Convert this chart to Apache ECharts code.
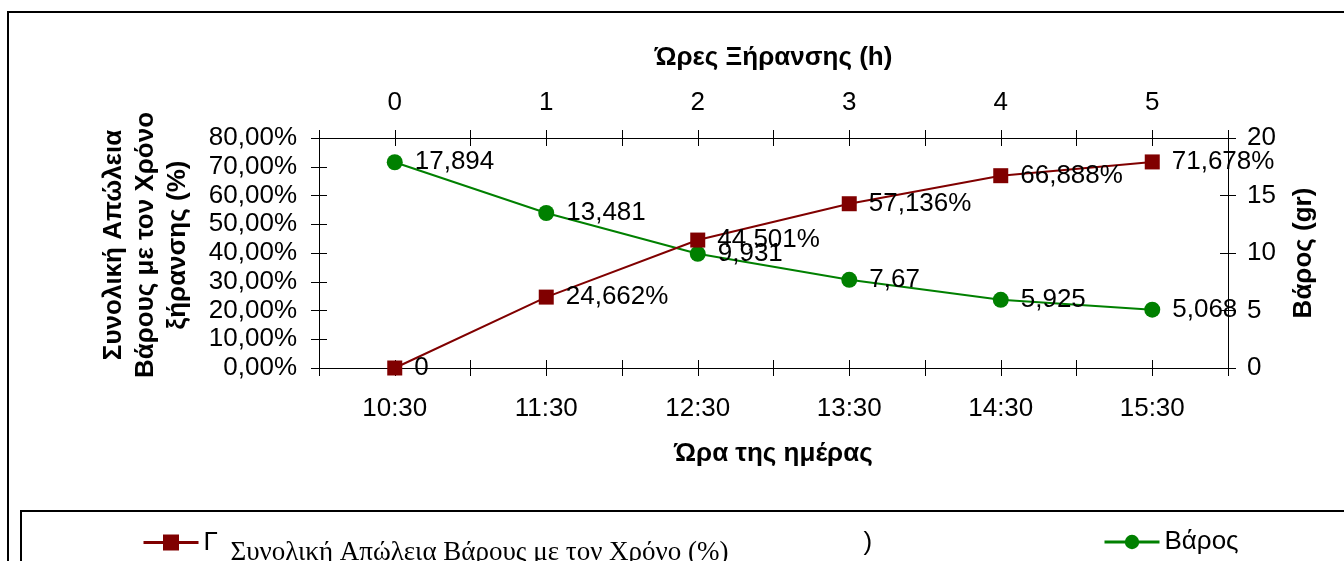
<!DOCTYPE html>
<html>
<head>
<meta charset="utf-8">
<script src="https://cdn.jsdelivr.net/npm/echarts@6/dist/echarts.min.js"></script>
<style>
  html, body { margin: 0; padding: 0; background: #fff; }
  #chart { width: 1344px; height: 561px; }
</style>
</head>
<body>
<div id="chart"></div>
<script>
// Time of day (bottom axis) and drying hours (top axis)
var timesOfDay = ['10:30', '11:30', '12:30', '13:30', '14:30', '15:30'];
var dryingHours = ['0', '1', '2', '3', '4', '5'];

// Cumulative weight loss (%) and sample weight (gr)
var weightLossPct = [0, 24.662, 44.501, 57.136, 66.888, 71.678];
var weightGr = [17.894, 13.481, 9.931, 7.67, 5.925, 5.068];

var lossName = 'Συνολική Απώλεια Βάρους με τον Χρόνο (%)';
var weightName = 'Βάρος';

var FONT = "'Liberation Sans', Arial, sans-serif";
var SERIF = "'Liberation Serif', 'Times New Roman', serif";
var RED = '#800000';
var GREEN = '#008000';
var FS = 26;

function comma(v) { return String(v).replace('.', ','); }

// categories sit at the half-steps of a 0..N value axis so that ticks fall on
// both the category boundaries and the category centres
function catLabel(list) {
  return function (v) {
    var f = v - Math.floor(v);
    if (Math.abs(f - 0.5) < 1e-6) return list[Math.floor(v)] || '';
    return '';
  };
}

var N = timesOfDay.length;
var tickLen = 8;
var lineStyle = { color: '#000', width: 1 };

function xAxisDef(pos, labels, withLabels, inside, name, nameGap) {
  return {
    type: 'value', position: pos, min: 0, max: N, interval: 0.5,
    splitLine: { show: false },
    axisLine: { show: withLabels, onZero: false, lineStyle: lineStyle },
    axisTick: { show: true, inside: inside, length: tickLen, lineStyle: lineStyle },
    axisLabel: withLabels ? {
      show: true, formatter: catLabel(labels), color: '#000',
      fontFamily: FONT, fontSize: FS, margin: pos === 'top' ? 22 : 28,
      showMinLabel: true, showMaxLabel: true
    } : { show: false },
    name: withLabels ? name : '',
    nameLocation: 'middle', nameGap: nameGap,
    nameTextStyle: { color: '#000', fontFamily: FONT, fontSize: FS, fontWeight: 'bold' }
  };
}

function yAxisDef(pos, max, interval, fmt, withLabels, inside) {
  return {
    type: 'value', position: pos, min: 0, max: max, interval: interval,
    splitLine: { show: false },
    axisLine: { show: withLabels, onZero: false, lineStyle: lineStyle },
    axisTick: { show: true, inside: inside, length: tickLen, lineStyle: lineStyle },
    axisLabel: withLabels ? {
      show: true, formatter: fmt, color: '#000', fontFamily: FONT, fontSize: FS,
      margin: pos === 'left' ? 22 : 19
    } : { show: false }
  };
}

var chart = echarts.init(document.getElementById('chart'), null, { renderer: 'canvas' });

chart.setOption({
  animation: false,
  backgroundColor: '#fff',
  textStyle: { fontFamily: FONT },
  grid: { left: 319, right: 116, top: 138, bottom: 193, containLabel: false },
  xAxis: [
    xAxisDef('bottom', timesOfDay, true, false, 'Ώρα της ημέρας', 73),
    xAxisDef('top', dryingHours, true, false, 'Ώρες Ξήρανσης (h)', 67),
    xAxisDef('bottom', timesOfDay, false, true),
    xAxisDef('top', dryingHours, false, true)
  ],
  yAxis: [
    yAxisDef('left', 80, 10, function (v) { return v.toFixed(2).replace('.', ',') + '%'; }, true, false),
    yAxisDef('right', 20, 5, function (v) { return String(v); }, true, false),
    yAxisDef('left', 80, 10, null, false, true),
    yAxisDef('right', 20, 5, null, false, true)
  ],
  legend: [
    {
      data: [lossName], left: 137, top: 514, itemWidth: 55, itemHeight: 20, itemGap: 0,
      formatter: function () {
        return '{a|Γ}{b|' + lossName + '}{c|)}';
      },
      textStyle: {
        rich: {
          a: { fontFamily: FONT, fontSize: FS, color: '#000', width: 27, lineHeight: 26 },
          b: { fontFamily: SERIF, fontSize: 27, color: '#000', width: 633, lineHeight: 26,
               padding: [20, 0, 0, 0] },
          c: { fontFamily: FONT, fontSize: FS, color: '#000', lineHeight: 26 }
        }
      },
      lineStyle: { width: 3 },
      selectedMode: false
    },
    {
      data: [weightName], left: 1098, top: 524, itemWidth: 55, itemHeight: 18,
      textStyle: { fontFamily: FONT, fontSize: FS, color: '#000' },
      lineStyle: { width: 3 },
      selectedMode: false
    }
  ],
  graphic: [
    // outer chart frame
    { type: 'rect', silent: true, z: -1,
      shape: { x: 8, y: 12, width: 1400, height: 600 },
      style: { fill: 'none', stroke: '#000', lineWidth: 2 } },
    // legend frame
    { type: 'rect', silent: true, z: -1,
      shape: { x: 21, y: 511, width: 1400, height: 100 },
      style: { fill: 'none', stroke: '#000', lineWidth: 2 } },
    // left axis title (three lines, rotated)
    { type: 'text', silent: true, x: 146, y: 245, rotation: Math.PI / 2,
      style: { text: 'Συνολική Απώλεια\nΒάρους με τον Χρόνο\nξήρανσης (%)',
               font: 'bold ' + FS + 'px ' + FONT, fill: '#000', align: 'center',
               verticalAlign: 'middle', lineHeight: 32 } },
    // right axis title
    { type: 'text', silent: true, x: 1304, y: 253, rotation: Math.PI / 2,
      style: { text: 'Βάρος (gr)', font: 'bold ' + FS + 'px ' + FONT, fill: '#000',
               align: 'center', verticalAlign: 'middle' } }
  ],
  series: [
    {
      name: lossName, type: 'line', xAxisIndex: 0, yAxisIndex: 0,
      data: weightLossPct.map(function (v, i) { return [i + 0.5, v]; }),
      symbol: 'rect', symbolSize: 15,
      lineStyle: { color: RED, width: 2 }, itemStyle: { color: RED },
      label: {
        show: true, position: 'right', distance: 12, color: '#000',
        fontFamily: FONT, fontSize: FS,
        formatter: function (p) { var v = p.value[1]; return v === 0 ? '0' : comma(v) + '%'; }
      },
      z: 3
    },
    {
      name: weightName, type: 'line', xAxisIndex: 0, yAxisIndex: 1,
      data: weightGr.map(function (v, i) { return [i + 0.5, v]; }),
      symbol: 'circle', symbolSize: 16,
      lineStyle: { color: GREEN, width: 2 }, itemStyle: { color: GREEN },
      label: {
        show: true, position: 'right', distance: 12, color: '#000',
        fontFamily: FONT, fontSize: FS,
        formatter: function (p) { return comma(p.value[1]); }
      },
      z: 2
    }
  ]
});
</script>
</body>
</html>
